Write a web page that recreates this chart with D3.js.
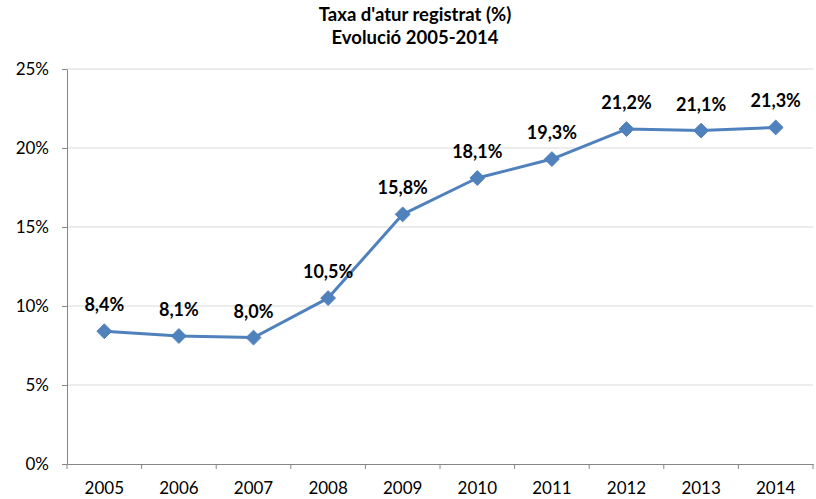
<!DOCTYPE html>
<html>
<head>
<meta charset="utf-8">
<script src="https://cdn.jsdelivr.net/npm/d3@7"></script>
<style>
  body { margin: 0; background: #fff; }
  svg { font-family: Lato, "Open Sans", sans-serif; }
</style>
</head>
<body>
<svg id="chart" width="816" height="499"></svg>
<script>
// Data
const years = ["2005", "2006", "2007", "2008", "2009", "2010", "2011", "2012", "2013", "2014"];
const rates = [8.4, 8.1, 8.0, 10.5, 15.8, 18.1, 19.3, 21.2, 21.1, 21.3];
const yTicks = [0, 5, 10, 15, 20, 25];
const titleLines = ["Taxa d'atur registrat (%)", "Evolució 2005-2014"];

const svg = d3.select("#chart");
const margin = {top: 69, right: 3, bottom: 35, left: 67};
const width = 816 - margin.left - margin.right;
const height = 499 - margin.top - margin.bottom;

const x = d3.scaleBand().domain(years).range([0, width]);
const y = d3.scaleLinear().domain([0, 25]).range([height, 0]);

const fmt = v => d3.format(".1f")(v).replace(".", ",") + "%";

// Title
svg.append("g")
  .selectAll("text")
  .data(titleLines)
  .join("text")
  .attr("x", 415)
  .attr("y", (d, i) => 21 + i * 22.5)
  .attr("text-anchor", "middle")
  .attr("font-size", 18.5)
  .attr("font-weight", "bold")
  .attr("fill", "#000")
  .text(d => d);

const g = svg.append("g").attr("transform", `translate(${margin.left},${margin.top})`);

// Gridlines
g.append("g")
  .selectAll("line")
  .data(yTicks.filter(t => t > 0))
  .join("line")
  .attr("x1", 0)
  .attr("x2", width)
  .attr("y1", d => y(d))
  .attr("y2", d => y(d))
  .attr("stroke", "#d9d9d9")
  .attr("stroke-width", 1);

// Y axis
const yAxis = g.append("g")
  .call(d3.axisLeft(y).tickValues(yTicks).tickFormat(d => d + "%").tickSize(5).tickSizeOuter(0));
yAxis.select(".domain").attr("stroke", "#868686");
yAxis.selectAll(".tick line").attr("stroke", "#868686");
yAxis.selectAll(".tick text")
  .attr("x", -18)
  .attr("font-size", 17)
  .attr("font-family", "Lato, sans-serif")
  .attr("fill", "#000");

// X axis, ticks at category boundaries
const xAxis = g.append("g")
  .attr("transform", `translate(0,${height})`)
  .call(d3.axisBottom(x).tickSize(0).tickSizeOuter(0));
xAxis.select(".domain").attr("stroke", "#868686");
xAxis.selectAll(".tick text")
  .attr("y", 30)
  .attr("dy", 0)
  .attr("font-size", 17)
  .attr("font-family", "Lato, sans-serif")
  .attr("fill", "#000");
xAxis.append("g")
  .selectAll("line")
  .data(years.map((d, i) => i).concat([years.length]))
  .join("line")
  .attr("x1", i => i * x.step())
  .attr("x2", i => i * x.step())
  .attr("y1", 0)
  .attr("y2", 5)
  .attr("stroke", "#868686");

// Line
const line = d3.line()
  .x((d, i) => x(years[i]) + x.bandwidth() / 2)
  .y(d => y(d));

g.append("path")
  .datum(rates)
  .attr("d", line)
  .attr("fill", "none")
  .attr("stroke", "#4f81bd")
  .attr("stroke-width", 3)
  .attr("stroke-linejoin", "round");

// Diamond markers
const diamond = d3.symbol().type(d3.symbolDiamond2).size(140);
g.append("g")
  .selectAll("path")
  .data(rates)
  .join("path")
  .attr("transform", (d, i) => `translate(${x(years[i]) + x.bandwidth() / 2},${y(d)})`)
  .attr("d", diamond)
  .attr("fill", "#4f81bd")
  .attr("stroke", "#4f81bd")
  .attr("stroke-width", 1);

// Data labels
g.append("g")
  .selectAll("text")
  .data(rates)
  .join("text")
  .attr("x", (d, i) => x(years[i]) + x.bandwidth() / 2)
  .attr("y", d => y(d) - 20)
  .attr("text-anchor", "middle")
  .attr("font-size", 18)
  .attr("font-weight", "bold")
  .attr("fill", "#000")
  .text(d => fmt(d));
</script>
</body>
</html>
